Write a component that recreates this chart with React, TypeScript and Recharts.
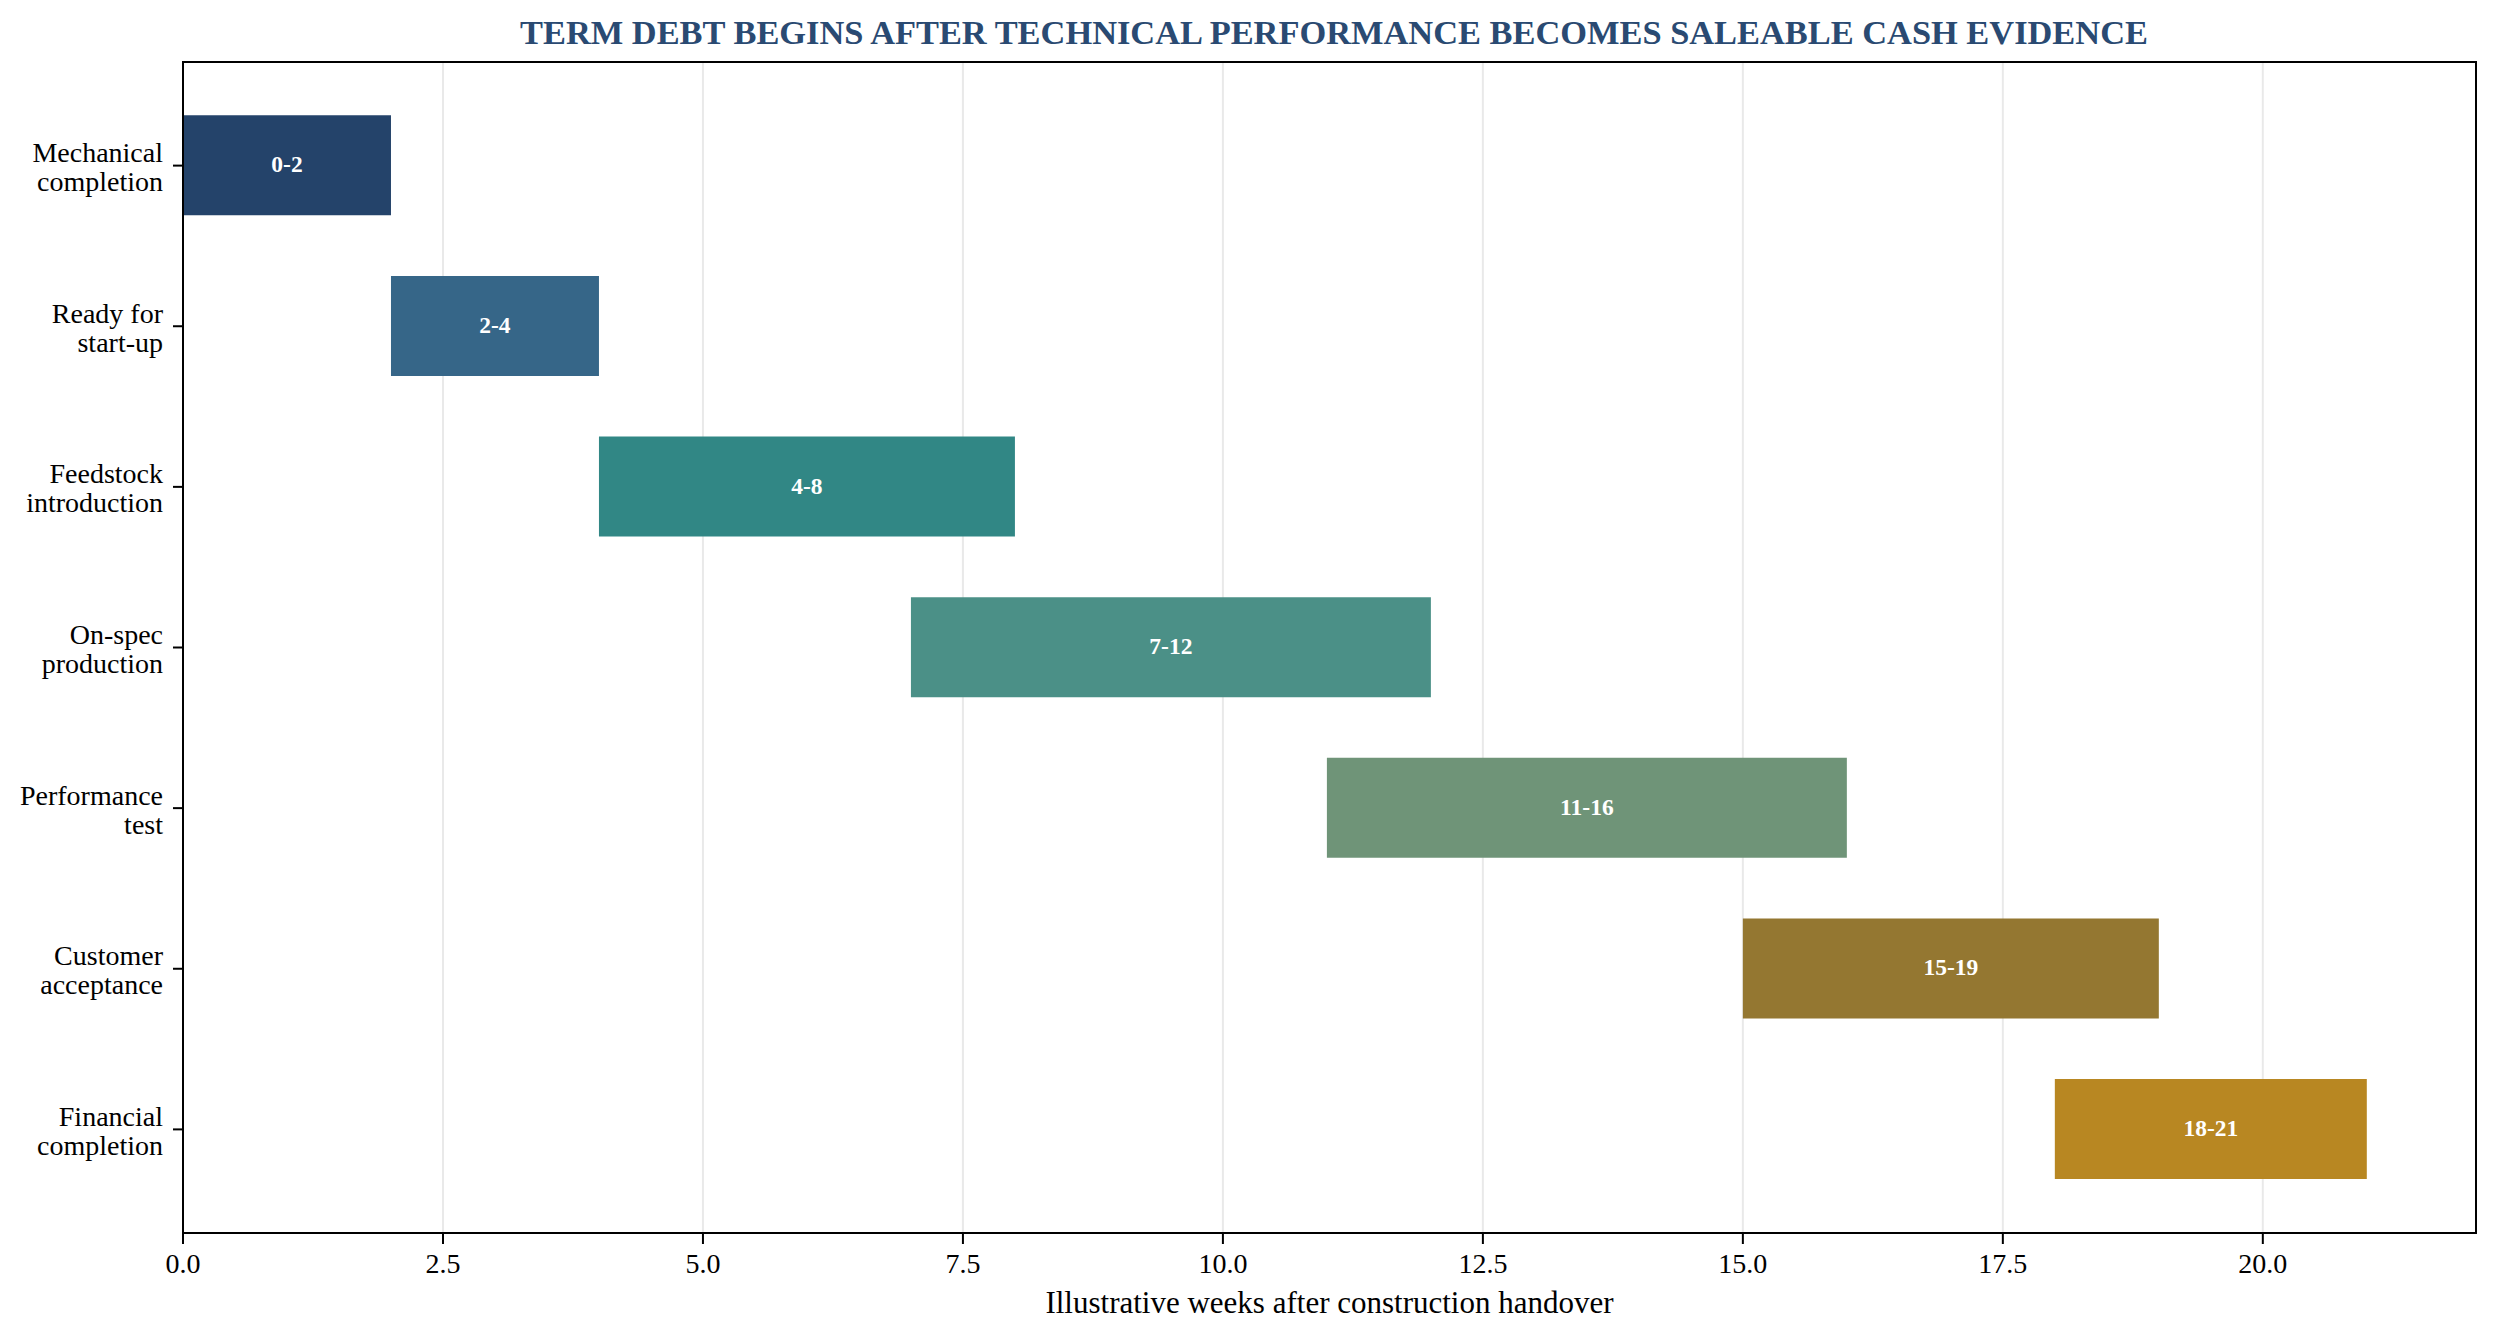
import React from "react";
import {
  BarChart,
  Bar,
  XAxis,
  YAxis,
  CartesianGrid,
  Cell,
  LabelList,
  Label,
  ReferenceArea,
} from "recharts";

const categories = [
  "Mechanical\ncompletion",
  "Ready for\nstart-up",
  "Feedstock\nintroduction",
  "On-spec\nproduction",
  "Performance\ntest",
  "Customer\nacceptance",
  "Financial\ncompletion",
];
const startWeeks = [0, 2, 4, 7, 11, 15, 18];
const endWeeks = [2, 4, 8, 12, 16, 19, 21];
const barColors = [
  "#24436a",
  "#366688",
  "#318785",
  "#4b9087",
  "#6f9478",
  "#947731",
  "#b88722",
];
const xTicks = [0, 2.5, 5, 7.5, 10, 12.5, 15, 17.5, 20];
const xDomain = [0, 22.05];
const yDomain = [-0.645, 6.645];
const yTicks = categories.map((_, i) => i);

const title =
  "TERM DEBT BEGINS AFTER TECHNICAL PERFORMANCE BECOMES SALEABLE CASH EVIDENCE";
const xLabel = "Illustrative weeks after construction handover";

const FONT = "'Liberation Serif', 'Times New Roman', serif";

const data = categories.map((name, i) => ({
  name,
  pos: i,
  start: startWeeks[i],
  duration: endWeeks[i] - startWeeks[i],
  label: `${startWeeks[i]}-${endWeeks[i]}`,
}));

const YTick = (props: any) => {
  const { x, y, payload } = props;
  const name = categories[Math.round(Number(payload.value))] || "";
  const lines = name.split("\n");
  return (
    <text
      x={x}
      y={y}
      textAnchor="end"
      fontSize={28}
      fontFamily={FONT}
      fill="#000"
    >
      {lines.map((l, i) => (
        <tspan key={i} x={x} y={y - 3.5 + i * 29}>
          {l}
        </tspan>
      ))}
    </text>
  );
};

const BarLabel = (props: any) => {
  const { x, y, width, height, value } = props;
  return (
    <text
      x={Number(x) + Number(width) / 2}
      y={Number(y) + Number(height) / 2 + 7}
      textAnchor="middle"
      fontSize={23.5}
      fontWeight="bold"
      fontFamily={FONT}
      fill="#fff"
    >
      {value}
    </text>
  );
};

const XAxisTitle = (props: any) => {
  const vb = props.viewBox || {};
  return (
    <text
      x={vb.x + vb.width / 2}
      y={vb.y + 80}
      textAnchor="middle"
      fontSize={31}
      fontFamily={FONT}
      fill="#000"
    >
      {xLabel}
    </text>
  );
};

export default function App() {
  return (
    <div
      style={{
        position: "absolute",
        left: 0,
        top: 0,
        width: 2499,
        height: 1341,
        background: "#fff",
      }}
    >
      <BarChart
        width={2499}
        height={1341}
        data={data}
        layout="vertical"
        margin={{ top: 62, right: 23, bottom: 0, left: 0 }}
      >
        <XAxis
          type="number"
          domain={xDomain}
          ticks={xTicks}
          allowDataOverflow
          tickFormatter={(v: number) => v.toFixed(1)}
          height={108}
          tickSize={11}
          tickMargin={9}
          tick={{ fontSize: 28, fontFamily: FONT, fill: "#000" }}
          tickLine={{ stroke: "#000", strokeWidth: 2 }}
          axisLine={{ stroke: "#000", strokeWidth: 2 }}
        >
          <Label content={<XAxisTitle />} />
        </XAxis>
        <YAxis
          type="number"
          dataKey="pos"
          domain={yDomain}
          ticks={yTicks}
          allowDataOverflow
          width={183}
          tickSize={10}
          tickMargin={10}
          tick={<YTick />}
          tickLine={{ stroke: "#000", strokeWidth: 2 }}
          axisLine={{ stroke: "#000", strokeWidth: 2 }}
          interval={0}
        />
        <Bar
          dataKey="start"
          stackId="a"
          fill="transparent"
          barSize={100}
          isAnimationActive={false}
        />
        <Bar
          dataKey="duration"
          stackId="a"
          barSize={100}
          isAnimationActive={false}
        >
          {data.map((d, i) => (
            <Cell key={d.name} fill={barColors[i]} />
          ))}
          <LabelList dataKey="label" content={<BarLabel />} />
        </Bar>
        <CartesianGrid
          horizontal={false}
          stroke="#b0b0b0"
          strokeOpacity={0.28}
          strokeWidth={2}
        />
        <ReferenceArea
          x1={xDomain[0]}
          x2={xDomain[1]}
          y1={yDomain[0]}
          y2={yDomain[1]}
          fill="none"
          fillOpacity={0}
          stroke="#000"
          strokeWidth={2}
          strokeOpacity={1}
          ifOverflow="visible"
        />
      </BarChart>
      <svg
        width={2499}
        height={80}
        style={{ position: "absolute", left: 0, top: 0, pointerEvents: "none" }}
      >
        <text
          x={1334}
          y={44}
          textAnchor="middle"
          fontSize={34.4}
          fontWeight="bold"
          fontFamily={FONT}
          fill="#2a4a72"
        >
          {title}
        </text>
      </svg>
    </div>
  );
}
